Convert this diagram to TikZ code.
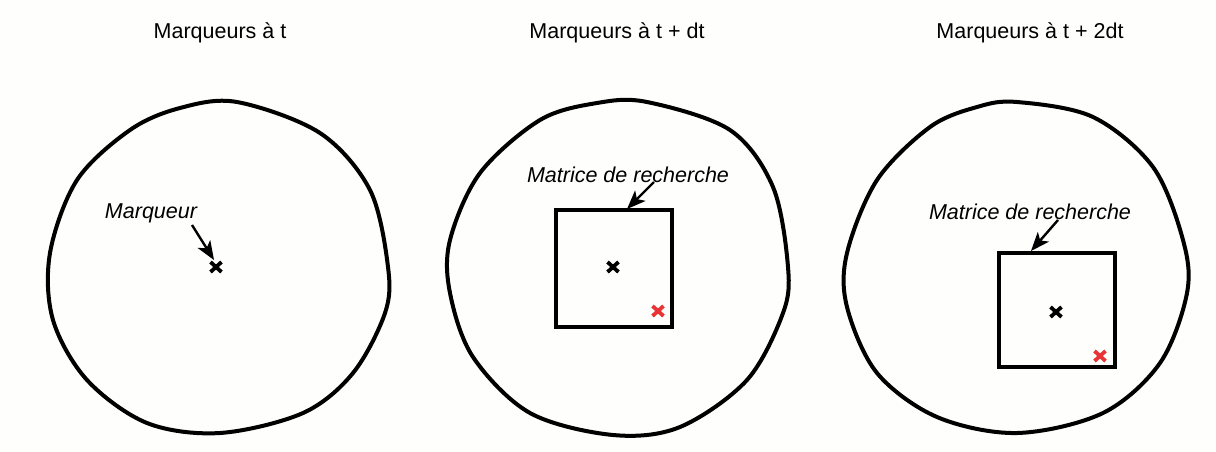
\documentclass[tikz,border=0pt]{standalone}
\usepackage{fontspec}
\setmainfont{Liberation Sans}
\usetikzlibrary{arrows.meta,calc}
\definecolor{bg}{RGB}{254,254,252}
\definecolor{redx}{RGB}{232,52,52}
\newcommand{\crossat}[2]{\draw[xmark,#2] ($(#1)+(-5.5,-5)$) -- ($(#1)+(5.5,5)$) ($(#1)+(-5.5,5)$) -- ($(#1)+(5.5,-5)$);}
\newcommand{\pointer}[2]{%
  \coordinate (hb) at ($(#2)!19pt!(#1)$);
  \coordinate (hm) at ($(#2)!14pt!(#1)$);
  \draw[arrline] (#1) -- (hm);
  \fill[line join=miter] (#2) -- ($(hb)!7.5pt!90:(#2)$) -- (hm) -- ($(hb)!7.5pt!-90:(#2)$) -- cycle;}
\begin{document}
\begin{tikzpicture}[x=1pt,y=-1pt,
  title/.style={inner sep=0pt,font=\fontsize{21.5}{26}\selectfont},
  lbl/.style={inner sep=0pt,font=\fontsize{21.5}{26}\selectfont\itshape},
  blob/.style={line width=4pt,line join=round},
  searchbox/.style={draw,line width=4.2pt,inner sep=0pt},
  arrline/.style={line width=2.4pt},
  xmark/.style={line width=3.8pt}
]
\fill[bg] (0,0) rectangle (1216,451);
\useasboundingbox (0,0) rectangle (1216,451);

% titles
\node[title] (t1) at (220,33) {Marqueurs à t};
\node[title] (t2) at (617,33) {Marqueurs à t + dt};
\node[title] (t3) at (1030,33) {Marqueurs à t + 2dt};

% outlines
\draw[blob] plot[smooth cycle,tension=0.55] coordinates {(237,102) (320,133) (370,190) (388,267) (385,313) (353,373) (303,413) (220,433) (147,423) (87,380) (53,320) (50,253) (77,180) (130,130) (180,108)};
\draw[blob] plot[smooth cycle,tension=0.55] coordinates {(647,102) (730,130) (773,187) (788,267) (783,313) (747,380) (680,427) (613,435) (530,413) (473,357) (450,293) (450,240) (480,173) (540,120) (597,103)};
\draw[blob] plot[smooth cycle,tension=0.55] coordinates {(1017,102) (1093,117) (1153,167) (1183,240) (1187,293) (1160,363) (1103,413) (1017,433) (937,417) (877,373) (847,307) (847,253) (877,180) (930,127) (977,107)};

% panel 1
\coordinate (m1) at (216,267);
\crossat{m1}{black}
\node[lbl] (l1) at (151,213) {Marqueur};
\coordinate (a1s) at (192,225);
\coordinate (a1e) at (214,260);
\pointer{a1s}{a1e}

% panel 2
\node[searchbox,minimum width=116pt,minimum height=117pt] (b2) at (614,268.5) {};
\coordinate (m2) at (613,267);
\coordinate (r2) at (658,311);
\crossat{m2}{black}
\crossat{r2}{redx}
\node[lbl] (l2) at (628,175) {Matrice de recherche};
\coordinate (a2s) at (654,182);
\coordinate (a2e) at (627,209);
\pointer{a2s}{a2e}

% panel 3
\node[searchbox,minimum width=116pt,minimum height=114pt] (b3) at (1057,310) {};
\coordinate (m3) at (1056,312);
\coordinate (r3) at (1100,356);
\crossat{m3}{black}
\crossat{r3}{redx}
\node[lbl] (l3) at (1030,212) {Matrice de recherche};
\coordinate (a3s) at (1058,220);
\coordinate (a3e) at (1031,251);
\pointer{a3s}{a3e}
\end{tikzpicture}
\end{document}
